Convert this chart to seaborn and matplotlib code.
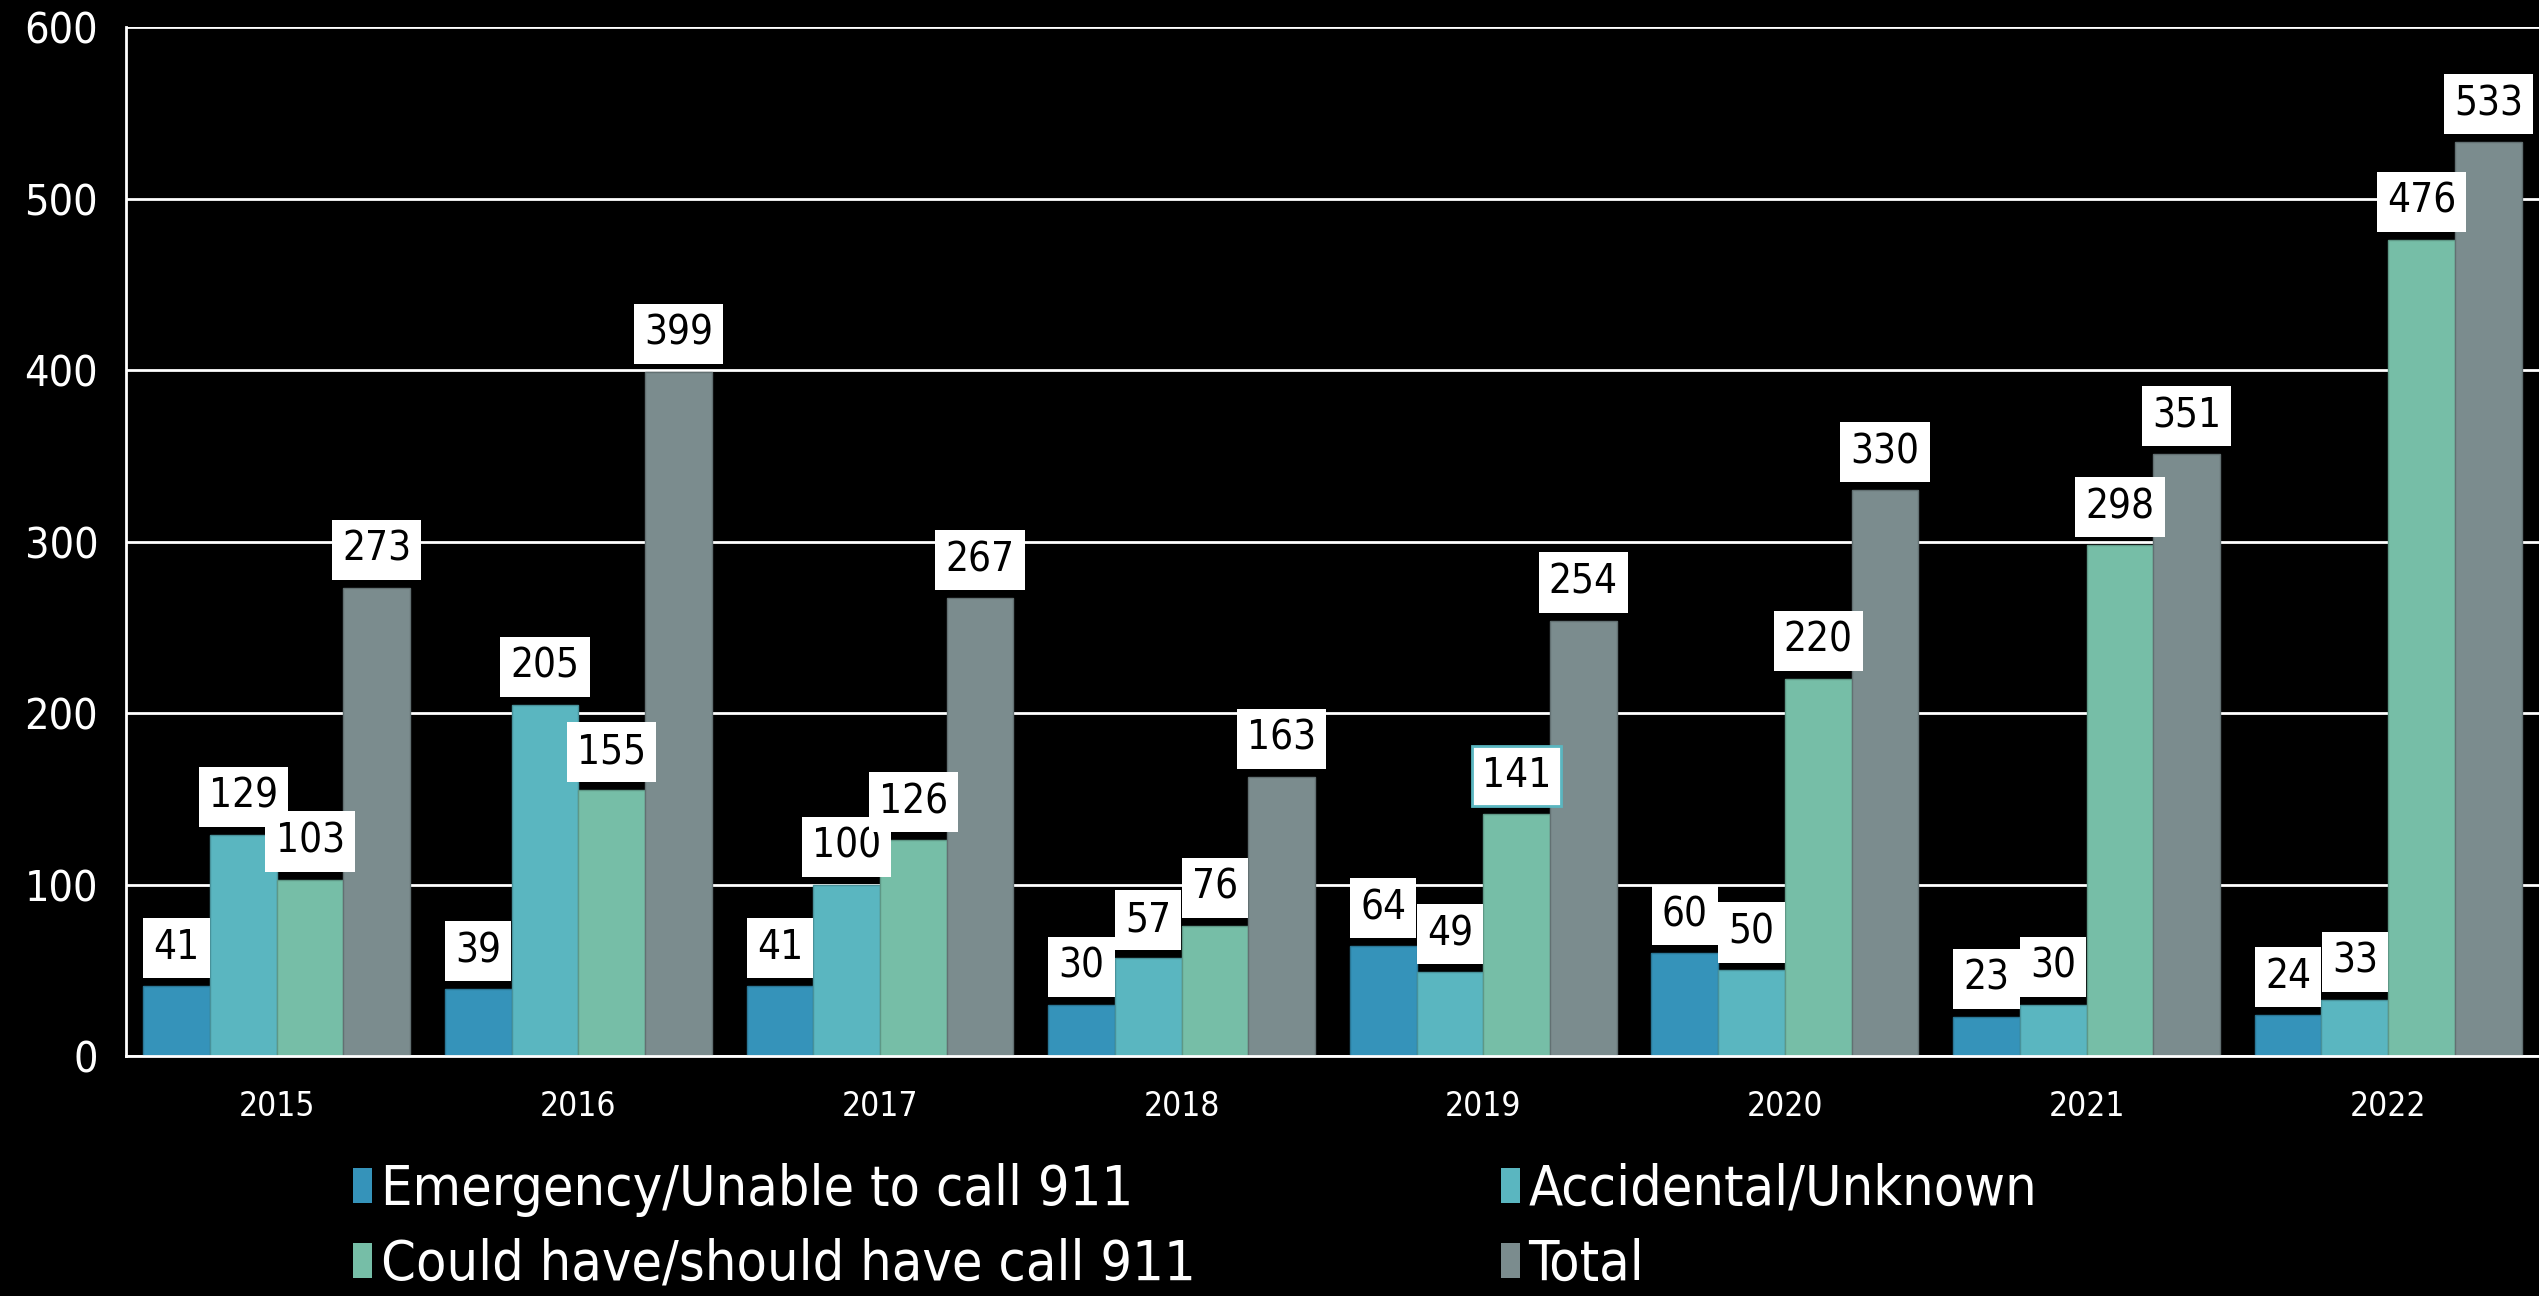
import matplotlib
matplotlib.use("Agg")
import matplotlib.pyplot as plt
from matplotlib.patches import Patch
import matplotlib.colors as mcolors
import seaborn as sns
import pandas as pd

# --- data -------------------------------------------------------------
years = ["2015", "2016", "2017", "2018", "2019", "2020", "2021", "2022"]
series_names = [
    "Emergency/Unable to call 911",
    "Accidental/Unknown",
    "Could have/should have call 911",
    "Total",
]
emergency = [41, 39, 41, 30, 64, 60, 23, 24]
accidental = [129, 205, 100, 57, 49, 50, 30, 33]
could_have = [103, 155, 126, 76, 141, 220, 298, 476]
total = [273, 399, 267, 163, 254, 330, 351, 533]
y_ticks = [0, 100, 200, 300, 400, 500, 600]

colors = ["#3593BA", "#5AB6C0", "#76BEA7", "#7B8C8E"]

values = [emergency, accidental, could_have, total]
df = pd.DataFrame(
    [(y, name, v) for name, vals in zip(series_names, values) for y, v in zip(years, vals)],
    columns=["year", "category", "count"],
)

# --- style ------------------------------------------------------------
sns.set_theme(style="white")
plt.rcParams["font.family"] = ["DejaVu Sans"]
plt.rcParams["font.stretch"] = "condensed"

fig = plt.figure(figsize=(25.39, 12.96), dpi=100, facecolor="black")
ax = fig.add_axes([0.0496, 0.185, 0.9504, 0.794])
ax.set_facecolor("black")

sns.barplot(
    data=df, x="year", y="count", hue="category",
    hue_order=series_names, order=years,
    palette=colors, width=0.885, ax=ax, legend=False,
    saturation=1, linewidth=1,
)

# thin darker outline on each bar
for cont, c in zip(ax.containers, colors):
    dark = tuple(v * 0.8 for v in mcolors.to_rgb(c))
    for p in cont:
        p.set_edgecolor(dark)

# value labels in white boxes
for i, cont in enumerate(ax.containers):
    texts = ax.bar_label(
        cont, padding=13, fontsize=29, color="black",
        bbox=dict(boxstyle="square,pad=0.25", facecolor="white", edgecolor="none"),
    )
    if i == 2:
        for t, v in zip(texts, could_have):
            if v == 141:
                bp = t.get_bbox_patch()
                bp.set_edgecolor(colors[1])
                bp.set_linewidth(2)

# axes
ax.set_ylim(0, 600)
ax.set_xlim(-0.5, len(years) - 0.5)
ax.set_yticks(y_ticks)
ax.set_xlabel("")
ax.set_ylabel("")
ax.yaxis.grid(True, color="white", linewidth=2)
ax.set_axisbelow(True)
for s in ["top", "right"]:
    ax.spines[s].set_visible(False)
for s in ["left", "bottom"]:
    ax.spines[s].set_color("white")
    ax.spines[s].set_linewidth(2)
ax.tick_params(axis="y", colors="white", labelsize=31, length=0, pad=20)
ax.tick_params(axis="x", colors="white", labelsize=24, length=0, pad=24)

# legend in two columns
handles = [Patch(facecolor=c, edgecolor="none") for c in colors]
leg_kw = dict(
    frameon=False, fontsize=40, labelcolor="white", loc="center left",
    handlelength=0.35, handleheight=0.6, handletextpad=0.15,
    labelspacing=0.38, borderpad=0, borderaxespad=0,
)
fig.legend([handles[0], handles[2]], [series_names[0], series_names[2]],
           bbox_to_anchor=(0.139, 0.053), **leg_kw)
fig.legend([handles[1], handles[3]], [series_names[1], series_names[3]],
           bbox_to_anchor=(0.591, 0.053), **leg_kw)

fig.savefig("out.png", dpi=100, facecolor="black")
